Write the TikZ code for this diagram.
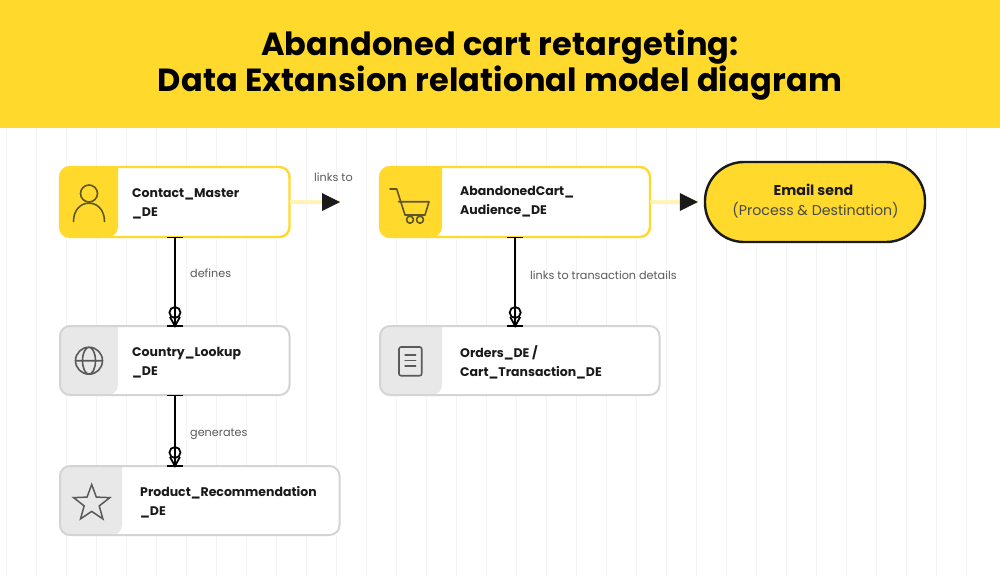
\documentclass[tikz,border=0pt]{standalone}
\usepackage{fontspec}
\setmainfont{Poppins}
\usetikzlibrary{positioning,shapes.geometric}
\definecolor{headyellow}{HTML}{FFDA2D}
\definecolor{softyellow}{HTML}{FFF3B8}
\definecolor{gridgrey}{HTML}{F4F4F4}
\definecolor{bandgrey}{HTML}{E8E8E8}
\definecolor{linegrey}{HTML}{D4D4D4}
\definecolor{inkdark}{HTML}{1A1A1A}
\definecolor{icongrey}{HTML}{5A5A5A}
\definecolor{iconolive}{HTML}{5F5627}
\tikzset{
  debox/.style={fill=white,draw=none,inner sep=0pt,anchor=north west},
  detext/.style={anchor=west,align=left,inner sep=0pt,text=inkdark,font=\bfseries\fontsize{12.5}{19}\selectfont},
  relabel/.style={anchor=west,inner sep=0pt,text=icongrey,font=\fontsize{11.2}{13}\selectfont},
  relline/.style={line width=1.8pt,black},
  softline/.style={line width=4pt,softyellow},
  flowtip/.style={fill=inkdark,draw=none},
  icon/.style={line width=1.6pt,line cap=round,line join=round},
}
% one to many link between two boxes
\newcommand{\relink}[2]{
  \coordinate (relA) at (#1.south);
  \coordinate (relB) at (#1.south |- #2.north);
  \draw[relline] (relA) -- (relB);
  \draw[relline] ([xshift=-8pt]relA) -- ([xshift=8pt]relA);
  \draw[relline] ([xshift=-8pt]relB) -- ([xshift=8pt]relB);
  \draw[relline] ([yshift=13.5pt]relB) circle (5.5pt);
  \draw[relline] ([xshift=-5pt,yshift=9pt]relB) -- (relB) -- ([xshift=5pt,yshift=9pt]relB);
}
% pale stub with a dark triangle on its end
\newcommand{\flowlink}[2]{
  \draw[softline] (#1) -- (#2);
  \fill[flowtip] ([xshift=-18pt,yshift=9pt]#2) -- (#2) -- ([xshift=-18pt,yshift=-9pt]#2) -- cycle;
}
\begin{document}
\begin{tikzpicture}[x=1pt,y=-1pt]
\useasboundingbox (0,0) rectangle (1000,576);
\fill[white] (0,0) rectangle (1000,576);

% the pale background lines
\foreach \x in {6.7,36.7,...,967} {
\draw[gridgrey,line width=0.8pt] (\x,128) -- (\x,576);
}

% the header
\fill[headyellow] (0,0) rectangle (1000,128);
\node[inner sep=0pt,align=center,text=black,font=\bfseries\fontsize{32}{36}\selectfont\addfontfeature{LetterSpace=0.6}] (title) at (500,65) {Abandoned cart retargeting:\\Data Extansion relational model diagram};

% the boxes
\foreach \name/\xa/\ya/\xb/\yb/\xc/\xt/\yt/\band/\edge/\lw/\txt in {
contact/60/167/289.5/237/118/132/204/headyellow/headyellow/2.4/{Contact\_Master\\\_DE},
cart/380/167/650/237/442/460/201.5/headyellow/headyellow/2.4/{AbandonedCart\_\\Audience\_DE},
country/60/326/289.5/395/118/132/363/bandgrey/linegrey/2/{Country\_Lookup\\\_DE},
orders/380/326/659.5/395/442/460/362/bandgrey/linegrey/2/{Orders\_DE /\\Cart\_Transaction\_DE},
product/60/466/339.5/535/122/140/502/bandgrey/linegrey/2/{Product\_Recommendation\\\_DE}} {
\pgfmathsetmacro{\boxw}{\xb-\xa}
\pgfmathsetmacro{\boxh}{\yb-\ya}
\node[debox,minimum width=\boxw pt,minimum height=\boxh pt] (\name) at (\xa,\ya) {};
\fill[\band,rounded corners=10pt] (\xc,\ya) -- (\xa,\ya) -- (\xa,\yb) -- (\xc,\yb) [sharp corners] -- cycle;
\draw[\edge,line width=\lw pt,rounded corners=10pt] (\xa,\ya) rectangle (\xb,\yb);
\node[detext] (\name-txt) at (\xt,\yt) {\txt};
}

% the email send end point
\node[draw=inkdark,line width=2.4pt,fill=headyellow,shape=rectangle,rounded corners=39pt,minimum width=220pt,minimum height=80pt,inner sep=0pt] (email) at (815,202) {};
\node[align=center,inner sep=0pt,font=\fontsize{14.2}{20}\selectfont] (email-txt) at (815.5,201) {\hspace*{-4pt}\textbf{\textcolor{inkdark}{Email send}}\\\textcolor{inkdark!80}{(Process \& Destination)}};

% the links
\coordinate (free) at (340,202);
\coordinate (emailtip) at ([xshift=-6pt]email.west);
\flowlink{contact.east}{free}
\flowlink{cart.east}{emailtip}
\relink{contact}{country}
\relink{country}{product}
\relink{cart}{orders}

% the labels on the links
\node[relabel] (lbllinks) at (314,177) {links to};
\node[relabel] (lbldefines) at (190,273) {defines};
\node[relabel] (lblgenerates) at (190,434) {generates};
\node[relabel] (lbldetails) at (530,275) {links to transaction details};

% person icon
\draw[icon,iconolive] (89,193.5) circle (8.5pt);
\draw[icon,iconolive] (73.5,221.5) .. controls (73.5,197) and (104.5,197) .. (104.5,221.5);

% cart icon
\draw[icon,iconolive] (390,189) -- (396.7,189) -- (405,215) -- (425,215) -- (429,201.7) -- (398.5,201.7);
\draw[icon,iconolive] (410,219.7) circle (3.5pt) (420,219.7) circle (3.5pt);

% globe icon
\draw[icon,icongrey] (89,360.7) circle (13.5pt) (89,360.7) ellipse (6.5pt and 13.5pt) (75.5,360.7) -- (102.5,360.7);

% document icon
\draw[icon,icongrey,rounded corners=2pt] (399,347) rectangle (421.7,375.7);
\foreach \y in {355,360.7,366} {
\draw[icon,icongrey,line width=1.3pt] (405,\y) -- (415.7,\y);
}

% star icon
\node[star,star points=5,star point ratio=2.4,draw=icongrey,line width=1.5pt,inner sep=0pt,minimum size=38pt] (staricon) at (91.7,503.5) {};
\end{tikzpicture}
\end{document}
